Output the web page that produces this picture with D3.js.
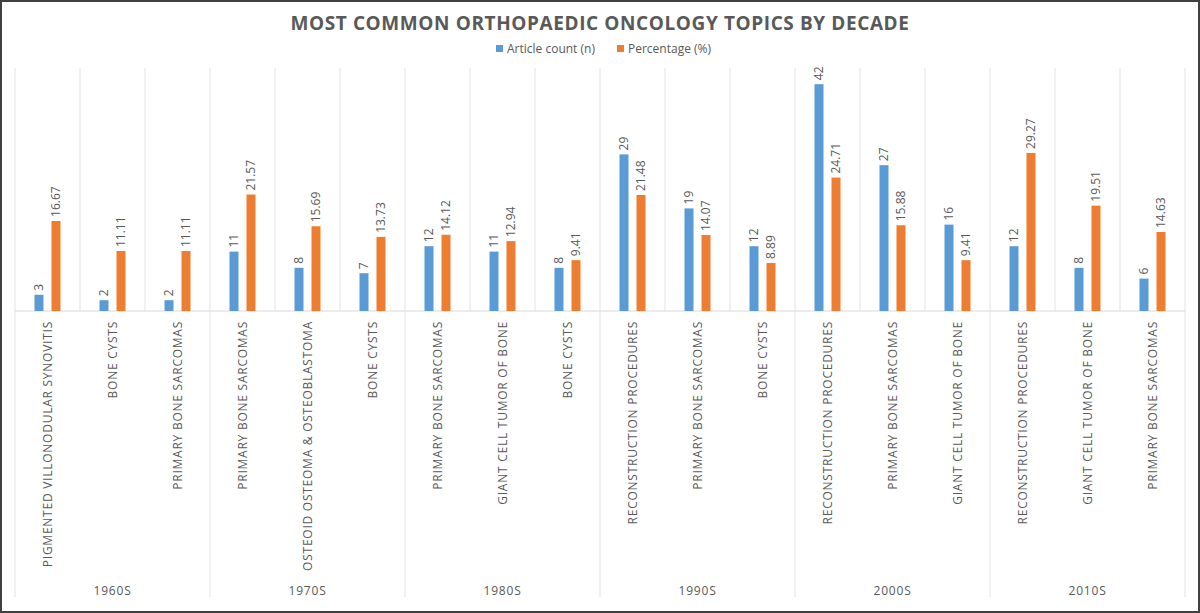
<!DOCTYPE html>
<html>
<head>
<meta charset="utf-8">
<script src="https://d3js.org/d3.v7.min.js"></script>
<style>
  body { margin: 0; background: #fff; }
  svg { display: block; font-family: "Open Sans", "Liberation Sans", sans-serif; }
</style>
</head>
<body>
<div id="chart"></div>
<script>
const W = 1200, H = 613;
const margin = { top: 68, right: 15, bottom: 302, left: 15 };
const width = W - margin.left - margin.right;
const height = H - margin.top - margin.bottom;

const decades = ["1960S", "1970S", "1980S", "1990S", "2000S", "2010S"];
const topics = [
    "PIGMENTED VILLONODULAR SYNOVITIS", "BONE CYSTS", "PRIMARY BONE SARCOMAS",
    "PRIMARY BONE SARCOMAS", "OSTEOID OSTEOMA & OSTEOBLASTOMA", "BONE CYSTS",
    "PRIMARY BONE SARCOMAS", "GIANT CELL TUMOR OF BONE", "BONE CYSTS",
    "RECONSTRUCTION PROCEDURES", "PRIMARY BONE SARCOMAS", "BONE CYSTS",
    "RECONSTRUCTION PROCEDURES", "PRIMARY BONE SARCOMAS", "GIANT CELL TUMOR OF BONE",
    "RECONSTRUCTION PROCEDURES", "GIANT CELL TUMOR OF BONE", "PRIMARY BONE SARCOMAS"
];
const articleCount = [3, 2, 2, 11, 8, 7, 12, 11, 8, 29, 19, 12, 42, 27, 16, 12, 8, 6];
const percentage = [16.67, 11.11, 11.11, 21.57, 15.69, 13.73, 14.12, 12.94, 9.41, 21.48, 14.07, 8.89, 24.71, 15.88, 9.41, 29.27, 19.51, 14.63];
const seriesNames = ["Article count (n)", "Percentage (%)"];
const colors = ["#5b9bd5", "#ed7d31"];

const textColor = "#595959";

const svg = d3.select("#chart").append("svg")
    .attr("width", W)
    .attr("height", H);

// outer border
svg.append("rect")
    .attr("x", 1).attr("y", 1)
    .attr("width", W - 2).attr("height", H - 2)
    .attr("fill", "#fff")
    .attr("stroke", "#404040")
    .attr("stroke-width", 2);

svg.append("text")
    .attr("x", W / 2)
    .attr("y", 30)
    .attr("text-anchor", "middle")
    .style("font-size", "19px")
    .style("font-weight", "700")
    .style("letter-spacing", "0.6px")
    .style("fill", textColor)
    .text("MOST COMMON ORTHOPAEDIC ONCOLOGY TOPICS BY DECADE");

// legend
const legend = svg.append("g");
const legendX = [496, 617];
seriesNames.forEach((name, i) => {
    legend.append("rect")
        .attr("x", legendX[i]).attr("y", 45)
        .attr("width", 7).attr("height", 7)
        .attr("fill", colors[i]);
    legend.append("text")
        .attr("x", legendX[i] + 11).attr("y", 53)
        .style("font-size", "12px")
        .style("fill", textColor)
        .text(name);
});

const g = svg.append("g")
    .attr("transform", `translate(${margin.left},${margin.top})`);

const idx = d3.range(topics.length);
const x = d3.scaleBand().domain(idx).range([0, width]).padding(0);
const y = d3.scaleLinear().domain([0, 45]).range([height, 0]);
const bw = 9;
const offsets = [-8.5 - bw / 2, 8.5 - bw / 2];

// vertical grid lines between categories
g.selectAll(".grid")
    .data(d3.range(topics.length + 1))
    .enter().append("line")
    .attr("x1", d => d * x.bandwidth())
    .attr("x2", d => d * x.bandwidth())
    .attr("y1", 0).attr("y2", height)
    .attr("stroke", "#e3e3e3");

// baseline
g.append("line")
    .attr("x1", 0).attr("x2", width)
    .attr("y1", height).attr("y2", height)
    .attr("stroke", "#d9d9d9");

// decade separators below the axis
const decadeEdges = [0, 3, 6, 9, 12, 15, 18];
g.selectAll(".dsep")
    .data(decadeEdges)
    .enter().append("line")
    .attr("x1", d => d * x.bandwidth())
    .attr("x2", d => d * x.bandwidth())
    .attr("y1", height).attr("y2", height + 286)
    .attr("stroke", "#e3e3e3");

[articleCount, percentage].forEach((vals, s) => {
    g.selectAll(".bar" + s)
        .data(idx)
        .enter().append("rect")
        .attr("x", d => x(d) + x.bandwidth() / 2 + offsets[s])
        .attr("y", d => y(vals[d]))
        .attr("width", bw)
        .attr("height", d => height - y(vals[d]))
        .attr("fill", colors[s]);

    g.selectAll(".lab" + s)
        .data(idx)
        .enter().append("text")
        .attr("transform", d => `translate(${x(d) + x.bandwidth() / 2 + offsets[s] + bw / 2 + 4},${y(vals[d]) - 4}) rotate(-90)`)
        .attr("text-anchor", "start")
        .style("font-size", "12px")
        .style("fill", textColor)
        .text(d => s === 0 ? vals[d] : vals[d].toFixed(2));
});

// category labels
g.selectAll(".cat")
    .data(idx)
    .enter().append("text")
    .attr("transform", d => `translate(${x(d) + x.bandwidth() / 2 + 4},${height + 10}) rotate(-90)`)
    .attr("text-anchor", "end")
    .style("font-size", "12px")
    .style("letter-spacing", "0.75px")
    .style("fill", textColor)
    .text(d => topics[d]);

// decade labels
g.selectAll(".dec")
    .data(decades)
    .enter().append("text")
    .attr("x", (d, i) => (decadeEdges[i] + 1.5) * x.bandwidth())
    .attr("y", height + 284)
    .attr("text-anchor", "middle")
    .style("font-size", "12px")
    .style("letter-spacing", "0.8px")
    .style("fill", textColor)
    .text(d => d);
</script>
</body>
</html>
